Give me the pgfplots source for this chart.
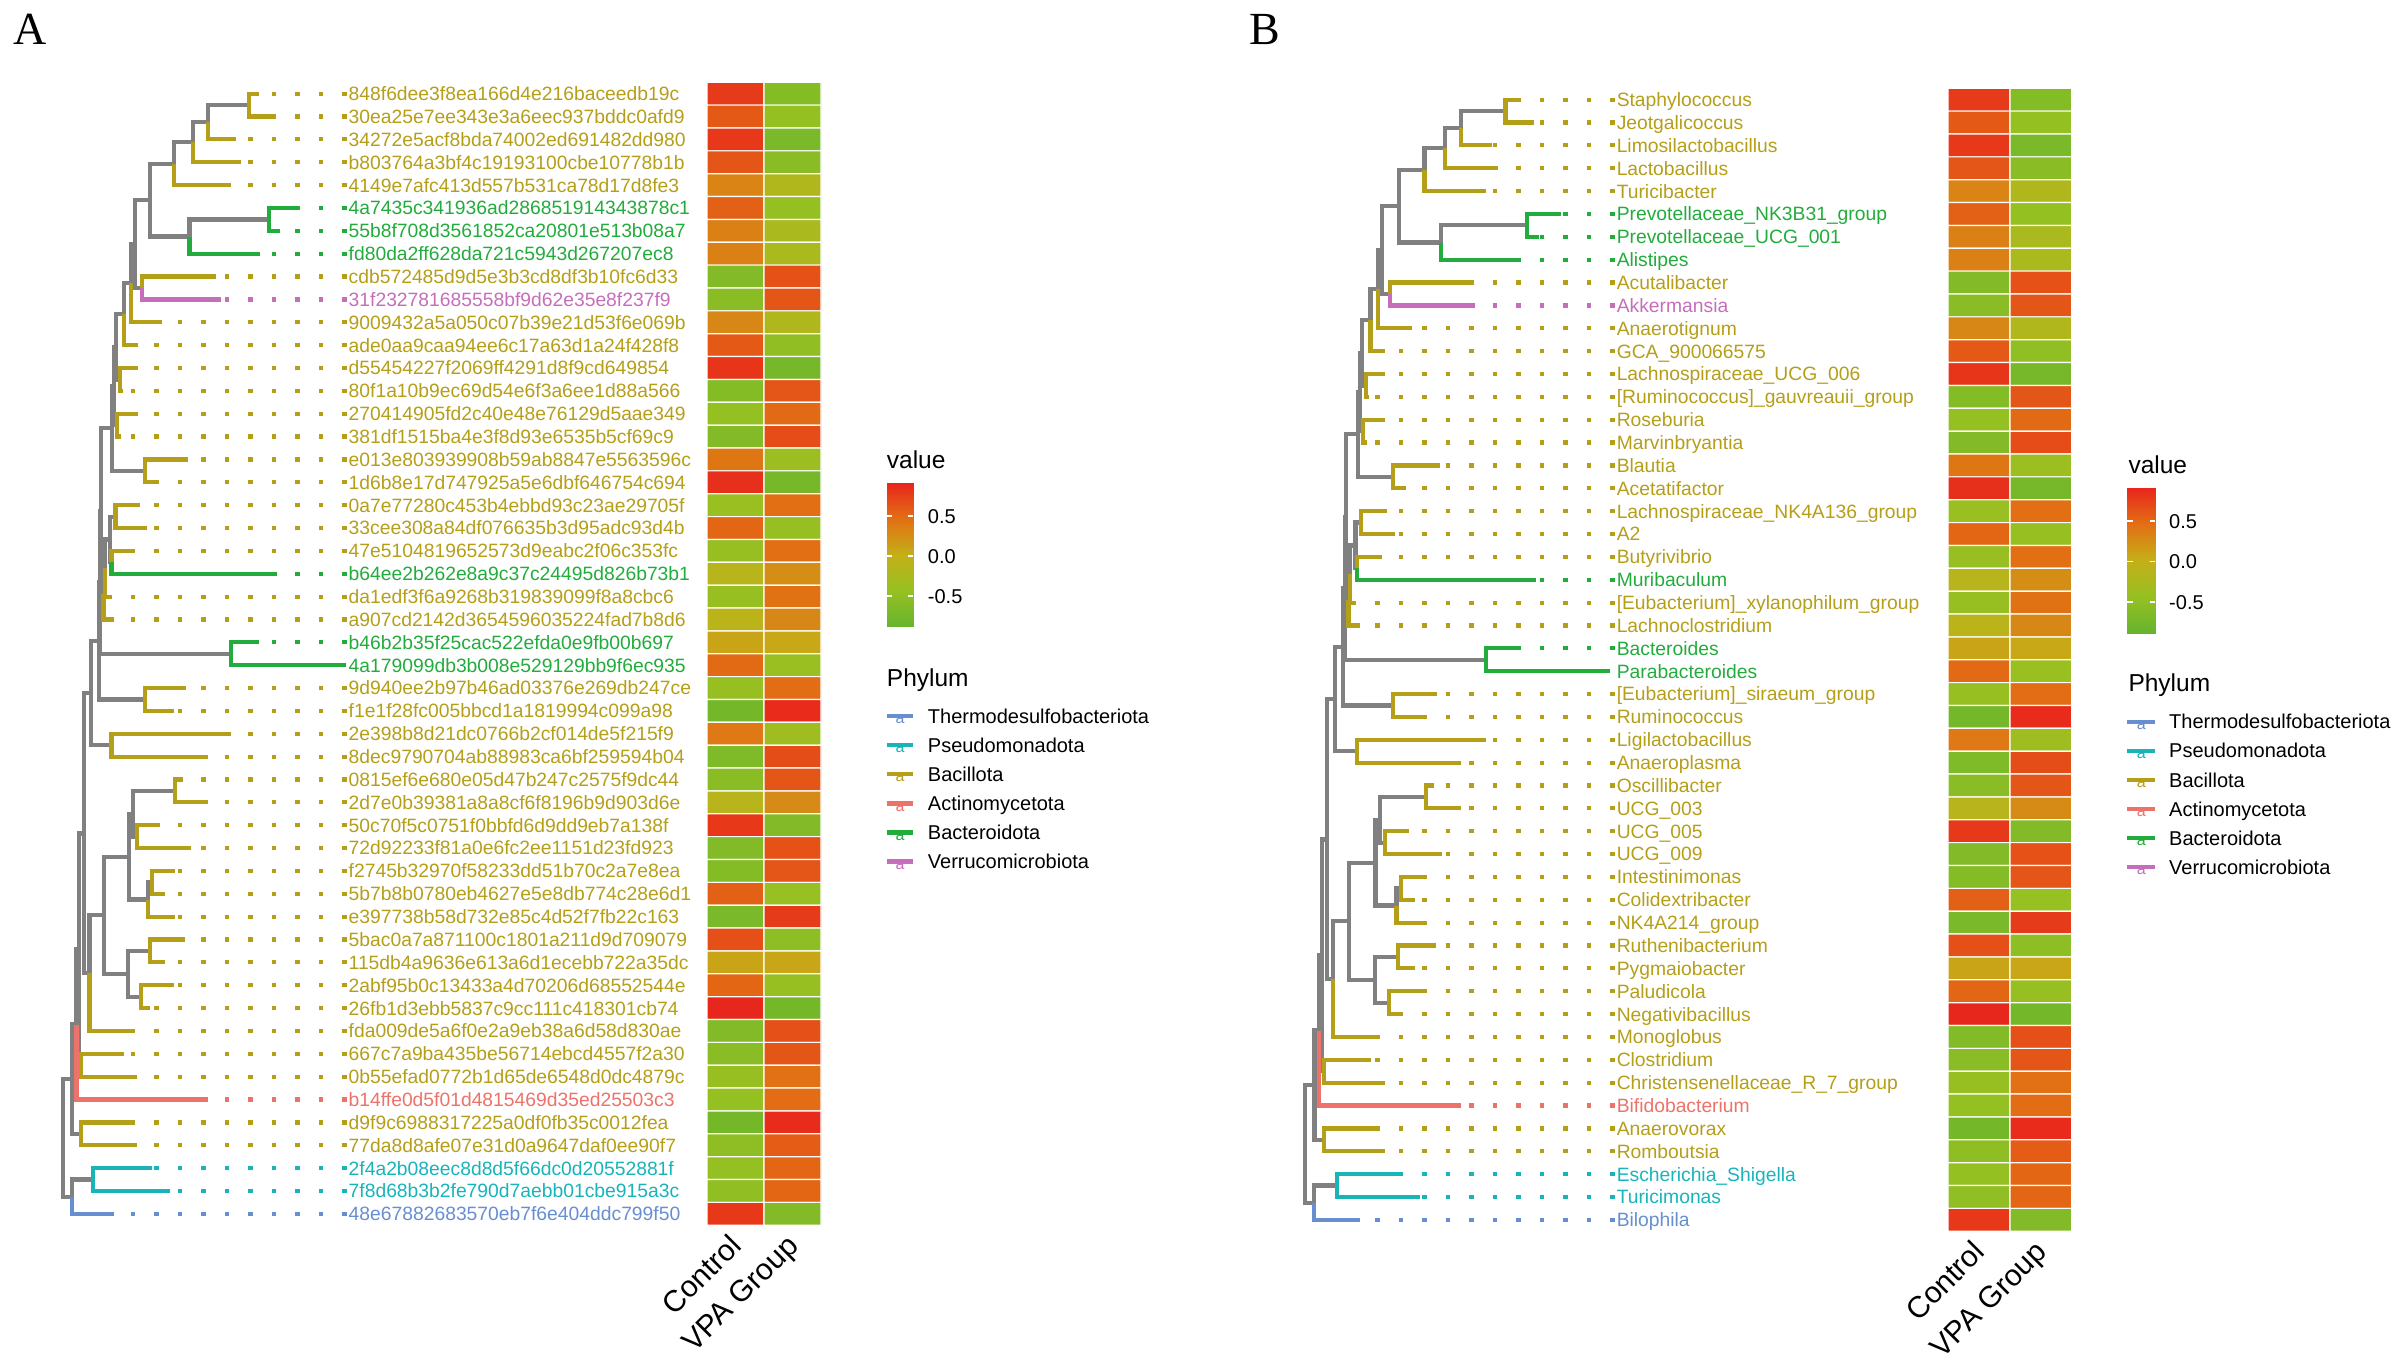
\documentclass[border=0pt]{standalone}
\usepackage{fontspec}
\setmainfont{Liberation Sans}
\newfontfamily\serifff{Liberation Serif}
\usepackage{pgfplots}
\usepackage{pgfplotstable}
\pgfplotsset{compat=1.18}

\definecolor{cOli}{RGB}{181,158,24}
\definecolor{cGrn}{RGB}{34,172,60}
\definecolor{cCya}{RGB}{24,180,186}
\definecolor{cBlu}{RGB}{104,142,210}
\definecolor{cSal}{RGB}{236,114,106}
\definecolor{cPur}{RGB}{198,110,186}
\definecolor{cGry}{RGB}{128,128,128}

\pgfplotsset{
  colormap={hm}{rgb255=(102,180,46) rgb255=(150,192,34) rgb255=(196,176,24) rgb255=(226,112,20) rgb255=(232,38,28)},
  full/.style={scale only axis, width=2404pt, height=1369pt, at={(0pt,0pt)}, anchor=south west,
    hide axis, clip=false, y dir=reverse, unbounded coords=jump},
  br/.style={line width=4.2pt, no markers},
  dt/.style={line width=4.2pt, dash pattern=on 4.4pt off 19.1pt, no markers},
  heat/.style={scale only axis, anchor=north west, height=1143pt, xmin=-0.5, xmax=1.5,
    ymin=0.5, ymax=50.5, y dir=reverse, hide axis, colormap name=hm,
    point meta min=-0.883, point meta max=0.908},
}
\tikzset{
  lab/.style={anchor=west, font=\fontsize{19.3}{22}\selectfont, text height=13.8pt, text depth=0pt, inner xsep=2pt, inner ysep=0pt},
  lgt/.style={anchor=west, font=\fontsize{20}{24}\selectfont, text height=14.3pt, text depth=0pt, inner sep=0pt},
  lga/.style={font=\fontsize{16}{16}\selectfont, inner sep=0pt},
  ttl/.style={anchor=base west, font=\fontsize{24.5}{28}\selectfont, inner sep=0pt},
  cnm/.style={anchor=east, rotate=45, font=\fontsize{30}{34}\selectfont, text height=21.5pt, text depth=0pt, inner sep=0pt},
}

% row, Control, VPA Group
\pgfplotstableread{
x y c
0 1 0.78
1 1 -0.60
0 2 0.60
1 2 -0.45
0 3 0.80
1 3 -0.70
0 4 0.62
1 4 -0.55
0 5 0.32
1 5 -0.18
0 6 0.55
1 6 -0.45
0 7 0.35
1 7 -0.25
0 8 0.35
1 8 -0.25
0 9 -0.62
1 9 0.65
0 10 -0.55
1 10 0.62
0 11 0.30
1 11 -0.18
0 12 0.60
1 12 -0.48
0 13 0.82
1 13 -0.72
0 14 -0.60
1 14 0.62
0 15 -0.45
1 15 0.50
0 16 -0.62
1 16 0.68
0 17 0.42
1 17 -0.38
0 18 0.85
1 18 -0.72
0 19 -0.40
1 19 0.47
0 20 0.52
1 20 -0.42
0 21 -0.42
1 21 0.47
0 22 -0.10
1 22 0.25
0 23 -0.42
1 23 0.45
0 24 -0.08
1 24 0.30
0 25 0.10
1 25 0.07
0 26 0.50
1 26 -0.40
0 27 -0.42
1 27 0.48
0 28 -0.75
1 28 0.88
0 29 0.40
1 29 -0.35
0 30 -0.65
1 30 0.67
0 31 -0.55
1 31 0.62
0 32 -0.10
1 32 0.27
0 33 0.80
1 33 -0.62
0 34 -0.62
1 34 0.65
0 35 -0.60
1 35 0.62
0 36 0.55
1 36 -0.43
0 37 -0.70
1 37 0.78
0 38 0.66
1 38 -0.52
0 39 0.10
1 39 0.08
0 40 0.52
1 40 -0.42
0 41 0.90
1 41 -0.75
0 42 -0.62
1 42 0.66
0 43 -0.55
1 43 0.62
0 44 -0.42
1 44 0.46
0 45 -0.45
1 45 0.48
0 46 -0.75
1 46 0.88
0 47 -0.50
1 47 0.58
0 48 -0.45
1 48 0.52
0 49 -0.48
1 49 0.52
0 50 0.80
1 50 -0.62
}\heatA

\pgfplotstableread{
x y c
0 1 0.78
1 1 -0.60
0 2 0.60
1 2 -0.45
0 3 0.80
1 3 -0.70
0 4 0.62
1 4 -0.55
0 5 0.32
1 5 -0.18
0 6 0.55
1 6 -0.45
0 7 0.35
1 7 -0.25
0 8 0.35
1 8 -0.25
0 9 -0.62
1 9 0.65
0 10 -0.55
1 10 0.62
0 11 0.30
1 11 -0.18
0 12 0.60
1 12 -0.48
0 13 0.82
1 13 -0.72
0 14 -0.60
1 14 0.62
0 15 -0.45
1 15 0.50
0 16 -0.62
1 16 0.68
0 17 0.42
1 17 -0.38
0 18 0.85
1 18 -0.72
0 19 -0.40
1 19 0.47
0 20 0.52
1 20 -0.42
0 21 -0.42
1 21 0.47
0 22 -0.10
1 22 0.25
0 23 -0.42
1 23 0.45
0 24 -0.08
1 24 0.30
0 25 0.10
1 25 0.07
0 26 0.50
1 26 -0.40
0 27 -0.42
1 27 0.48
0 28 -0.75
1 28 0.88
0 29 0.40
1 29 -0.35
0 30 -0.65
1 30 0.67
0 31 -0.55
1 31 0.62
0 32 -0.10
1 32 0.27
0 33 0.80
1 33 -0.62
0 34 -0.62
1 34 0.65
0 35 -0.60
1 35 0.62
0 36 0.55
1 36 -0.43
0 37 -0.70
1 37 0.78
0 38 0.66
1 38 -0.52
0 39 0.10
1 39 0.08
0 40 0.52
1 40 -0.42
0 41 0.90
1 41 -0.75
0 42 -0.62
1 42 0.66
0 43 -0.55
1 43 0.62
0 44 -0.42
1 44 0.46
0 45 -0.45
1 45 0.48
0 46 -0.75
1 46 0.88
0 47 -0.50
1 47 0.58
0 48 -0.45
1 48 0.52
0 49 -0.48
1 49 0.52
0 50 0.80
1 50 -0.62
}\heatB

% tree: x = branch position (px of panel A), y = row
\newcommand{\drawtree}[1]{%
\addplot[cGry, br] coordinates {
(208,2.25)(208,1.5)(249,1.5)(nan,nan)
(193,3.125)(193,2.25)(208,2.25)(nan,nan)
(174,4.0625)(174,3.125)(193,3.125)(nan,nan)
(150,5.656)(150,4.0625)(174,4.0625)(nan,nan)
(189.5,7.25)(189.5,6.5)(269,6.5)(nan,nan)
(150,5.656)(150,7.25)(189.5,7.25)(nan,nan)
(134.7,7.578)(134.7,5.656)(150,5.656)(nan,nan)
(134.7,7.578)(134.7,9.5)(142,9.5)(nan,nan)
(131,9.289)(131,7.578)(134.7,7.578)(nan,nan)
(124,10.645)(124,9.289)(131,9.289)(nan,nan)
(116,12.07)(116,10.645)(124,10.645)(nan,nan)
(116,12.07)(116,13.5)(120,13.5)(nan,nan)
(114,13.79)(114,12.07)(116,12.07)(nan,nan)
(114,13.79)(114,15.5)(117,15.5)(nan,nan)
(112,15.64)(112,13.79)(114,13.79)(nan,nan)
(112,15.64)(112,17.5)(144.6,17.5)(nan,nan)
(110,20.5)(110,19.5)(115.5,19.5)(nan,nan)
(110,20.5)(110,21.5)(111.4,21.5)(nan,nan)
(105,21.75)(105,20.5)(110,20.5)(nan,nan)
(103.5,22.875)(103.5,21.75)(105,21.75)(nan,nan)
(101,19.26)(101,15.64)(112,15.64)(nan,nan)
(101,19.26)(101,22.875)(103.5,22.875)(nan,nan)
(100,22.38)(100,19.26)(101,19.26)(nan,nan)
(100,22.38)(100,25.5)(231,25.5)(nan,nan)
(98.7,24.94)(98.7,22.38)(100,22.38)(nan,nan)
(98.7,24.94)(98.7,27.5)(144.6,27.5)(nan,nan)
(91,27.22)(91,24.94)(98.7,24.94)(nan,nan)
(91,27.22)(91,29.5)(111.4,29.5)(nan,nan)
(133,32.5)(133,31.5)(175,31.5)(nan,nan)
(133,32.5)(133,33.5)(137,33.5)(nan,nan)
(148,36.25)(148,35.5)(152,35.5)(nan,nan)
(128.6,34.375)(128.6,32.5)(133,32.5)(nan,nan)
(128.6,34.375)(128.6,36.25)(148,36.25)(nan,nan)
(127.8,39.5)(127.8,38.5)(149.7,38.5)(nan,nan)
(127.8,39.5)(127.8,40.5)(141,40.5)(nan,nan)
(104,36.94)(104,34.375)(128.6,34.375)(nan,nan)
(104,36.94)(104,39.5)(127.8,39.5)(nan,nan)
(89.5,39.47)(89.5,36.94)(104,36.94)(nan,nan)
(84,33.36)(84,27.22)(91,27.22)(nan,nan)
(84,33.36)(84,39.47)(89.5,39.47)(nan,nan)
(79,38.43)(79,33.36)(84,33.36)(nan,nan)
(79,38.43)(79,43.5)(81,43.5)(nan,nan)
(76.5,41.72)(76.5,38.43)(79,38.43)(nan,nan)
(72,44.11)(72,41.72)(76.5,41.72)(nan,nan)
(72,44.11)(72,46.5)(81,46.5)(nan,nan)
(63,46.68)(63,44.11)(72,44.11)(nan,nan)
(71.6,49.25)(71.6,48.5)(92.6,48.5)(nan,nan)
(63,46.68)(63,49.25)(71.6,49.25)
};
\addplot[cOli, br] coordinates {
(249,1.5)(249,1)(259,1)(nan,nan)
(249,1.5)(249,2)(275,2)(nan,nan)
(208,2.25)(208,3)(236,3)(nan,nan)
(193,3.125)(193,4)(241,4)(nan,nan)
(174,4.0625)(174,5)(231,5)(nan,nan)
(142,9.5)(142,9)(216,9)(nan,nan)
(131,9.289)(131,11)(162,11)(nan,nan)
(124,10.645)(124,12)(137.5,12)(nan,nan)
(120,13.5)(120,13)(137.5,13)(nan,nan)
(120,13.5)(120,14)(123,14)(nan,nan)
(117,15.5)(117,15)(137.5,15)(nan,nan)
(117,15.5)(117,16)(121,16)(nan,nan)
(144.6,17.5)(144.6,17)(188,17)(nan,nan)
(144.6,17.5)(144.6,18)(157,18)(nan,nan)
(115.5,19.5)(115.5,19)(139.5,19)(nan,nan)
(115.5,19.5)(115.5,20)(147,20)(nan,nan)
(111.4,21.5)(111.4,21)(134.4,21)(nan,nan)
(105,21.75)(105,23)(109,23)(nan,nan)
(103.5,22.875)(103.5,24)(114,24)(nan,nan)
(144.6,27.5)(144.6,27)(185.6,27)(nan,nan)
(144.6,27.5)(144.6,28)(173.7,28)(nan,nan)
(111.4,29.5)(111.4,29)(231,29)(nan,nan)
(111.4,29.5)(111.4,30)(208,30)(nan,nan)
(175,31.5)(175,31)(183,31)(nan,nan)
(175,31.5)(175,32)(208,32)(nan,nan)
(137,33.5)(137,33)(160,33)(nan,nan)
(137,33.5)(137,34)(190.5,34)(nan,nan)
(152,35.5)(152,35)(175,35)(nan,nan)
(152,35.5)(152,36)(165,36)(nan,nan)
(148,36.25)(148,37)(175,37)(nan,nan)
(149.7,38.5)(149.7,38)(185,38)(nan,nan)
(149.7,38.5)(149.7,39)(165,39)(nan,nan)
(141,40.5)(141,40)(173.7,40)(nan,nan)
(141,40.5)(141,41)(150,41)(nan,nan)
(89.5,39.47)(89.5,42)(132,42)(nan,nan)
(81,43.5)(81,43)(124,43)(nan,nan)
(81,43.5)(81,44)(137,44)(nan,nan)
(81,46.5)(81,46)(132,46)(nan,nan)
(81,46.5)(81,47)(137,47)
};
\addplot[cGrn, br] coordinates {
(269,6.5)(269,6)(300,6)(nan,nan)
(269,6.5)(269,7)(280,7)(nan,nan)
(189.5,7.25)(189.5,8)(260,8)(nan,nan)
(111.4,21.5)(111.4,22)(277,22)(nan,nan)
(231,25.5)(231,25)(259.4,25)(nan,nan)
(231,25.5)(231,26)(346,26)
};
\addplot[cPur, br] coordinates {(142,9.5)(142,10)(221,10)};
\addplot[cSal, br] coordinates {(76.5,41.72)(76.5,45)(208,45)};
\addplot[cCya, br] coordinates {
(92.6,48.5)(92.6,48)(152,48)(nan,nan)
(92.6,48.5)(92.6,49)(170,49)
};
\addplot[cBlu, br] coordinates {(71.6,49.25)(71.6,50)(114,50)};
% aligned dotted lines, drawn from the label side
\addplot[cOli, dt] coordinates {
(#1,1)(259,1)(nan,nan)(#1,2)(275,2)(nan,nan)(#1,3)(236,3)(nan,nan)(#1,4)(241,4)(nan,nan)
(#1,5)(231,5)(nan,nan)(#1,9)(216,9)(nan,nan)(#1,11)(162,11)(nan,nan)(#1,12)(137.5,12)(nan,nan)
(#1,13)(137.5,13)(nan,nan)(#1,14)(123,14)(nan,nan)(#1,15)(137.5,15)(nan,nan)(#1,16)(121,16)(nan,nan)
(#1,17)(188,17)(nan,nan)(#1,18)(157,18)(nan,nan)(#1,19)(139.5,19)(nan,nan)(#1,20)(147,20)(nan,nan)
(#1,21)(134.4,21)(nan,nan)(#1,23)(109,23)(nan,nan)(#1,24)(114,24)(nan,nan)(#1,27)(185.6,27)(nan,nan)
(#1,28)(173.7,28)(nan,nan)(#1,29)(231,29)(nan,nan)(#1,30)(208,30)(nan,nan)(#1,31)(183,31)(nan,nan)
(#1,32)(208,32)(nan,nan)(#1,33)(160,33)(nan,nan)(#1,34)(190.5,34)(nan,nan)(#1,35)(175,35)(nan,nan)
(#1,36)(165,36)(nan,nan)(#1,37)(175,37)(nan,nan)(#1,38)(185,38)(nan,nan)(#1,39)(165,39)(nan,nan)
(#1,40)(173.7,40)(nan,nan)(#1,41)(150,41)(nan,nan)(#1,42)(132,42)(nan,nan)(#1,43)(124,43)(nan,nan)
(#1,44)(137,44)(nan,nan)(#1,46)(132,46)(nan,nan)(#1,47)(137,47)
};
\addplot[cGrn, dt] coordinates {
(#1,6)(300,6)(nan,nan)(#1,7)(280,7)(nan,nan)(#1,8)(260,8)(nan,nan)(#1,22)(277,22)(nan,nan)(#1,25)(259.4,25)
};
\addplot[cPur, dt] coordinates {(#1,10)(221,10)};
\addplot[cSal, dt] coordinates {(#1,45)(208,45)};
\addplot[cCya, dt] coordinates {(#1,48)(152,48)(nan,nan)(#1,49)(170,49)};
\addplot[cBlu, dt] coordinates {(#1,50)(114,50)};
}
\newcommand{\lab}[3]{\node[lab, text=#2] at (axis cs:\LX,#1) {#3};}

\begin{document}
\begin{tikzpicture}

% ---------- heatmaps ----------
\begin{axis}[heat, width=114pt, at={(707pt,1286.73pt)}]
\addplot[matrix plot, mesh/cols=2, point meta=explicit, shader=faceted, faceted color=white, line width=1.2pt]
  table[x=x, y=y, meta=c] {\heatA};
\end{axis}
\begin{axis}[heat, width=123.8pt, at={(1948pt,1280.73pt)}]
\addplot[matrix plot, mesh/cols=2, point meta=explicit, shader=faceted, faceted color=white, line width=1.2pt]
  table[x=x, y=y, meta=c] {\heatB};
\end{axis}

% ---------- tree A ----------
\def\LX{346.5}
\begin{axis}[full, xmin=0, xmax=2404, ymin=-3.0989, ymax=56.787]
\drawtree{346.5}
\lab{1}{cOli}{848f6dee3f8ea166d4e216baceedb19c}
\lab{2}{cOli}{30ea25e7ee343e3a6eec937bddc0afd9}
\lab{3}{cOli}{34272e5acf8bda74002ed691482dd980}
\lab{4}{cOli}{b803764a3bf4c19193100cbe10778b1b}
\lab{5}{cOli}{4149e7afc413d557b531ca78d17d8fe3}
\lab{6}{cGrn}{4a7435c341936ad286851914343878c1}
\lab{7}{cGrn}{55b8f708d3561852ca20801e513b08a7}
\lab{8}{cGrn}{fd80da2ff628da721c5943d267207ec8}
\lab{9}{cOli}{cdb572485d9d5e3b3cd8df3b10fc6d33}
\lab{10}{cPur}{31f232781685558bf9d62e35e8f237f9}
\lab{11}{cOli}{9009432a5a050c07b39e21d53f6e069b}
\lab{12}{cOli}{ade0aa9caa94ee6c17a63d1a24f428f8}
\lab{13}{cOli}{d55454227f2069ff4291d8f9cd649854}
\lab{14}{cOli}{80f1a10b9ec69d54e6f3a6ee1d88a566}
\lab{15}{cOli}{270414905fd2c40e48e76129d5aae349}
\lab{16}{cOli}{381df1515ba4e3f8d93e6535b5cf69c9}
\lab{17}{cOli}{e013e803939908b59ab8847e5563596c}
\lab{18}{cOli}{1d6b8e17d747925a5e6dbf646754c694}
\lab{19}{cOli}{0a7e77280c453b4ebbd93c23ae29705f}
\lab{20}{cOli}{33cee308a84df076635b3d95adc93d4b}
\lab{21}{cOli}{47e5104819652573d9eabc2f06c353fc}
\lab{22}{cGrn}{b64ee2b262e8a9c37c24495d826b73b1}
\lab{23}{cOli}{da1edf3f6a9268b319839099f8a8cbc6}
\lab{24}{cOli}{a907cd2142d3654596035224fad7b8d6}
\lab{25}{cGrn}{b46b2b35f25cac522efda0e9fb00b697}
\lab{26}{cGrn}{4a179099db3b008e529129bb9f6ec935}
\lab{27}{cOli}{9d940ee2b97b46ad03376e269db247ce}
\lab{28}{cOli}{f1e1f28fc005bbcd1a1819994c099a98}
\lab{29}{cOli}{2e398b8d21dc0766b2cf014de5f215f9}
\lab{30}{cOli}{8dec9790704ab88983ca6bf259594b04}
\lab{31}{cOli}{0815ef6e680e05d47b247c2575f9dc44}
\lab{32}{cOli}{2d7e0b39381a8a8cf6f8196b9d903d6e}
\lab{33}{cOli}{50c70f5c0751f0bbfd6d9dd9eb7a138f}
\lab{34}{cOli}{72d92233f81a0e6fc2ee1151d23fd923}
\lab{35}{cOli}{f2745b32970f58233dd51b70c2a7e8ea}
\lab{36}{cOli}{5b7b8b0780eb4627e5e8db774c28e6d1}
\lab{37}{cOli}{e397738b58d732e85c4d52f7fb22c163}
\lab{38}{cOli}{5bac0a7a871100c1801a211d9d709079}
\lab{39}{cOli}{115db4a9636e613a6d1ecebb722a35dc}
\lab{40}{cOli}{2abf95b0c13433a4d70206d68552544e}
\lab{41}{cOli}{26fb1d3ebb5837c9cc111c418301cb74}
\lab{42}{cOli}{fda009de5a6f0e2a9eb38a6d58d830ae}
\lab{43}{cOli}{667c7a9ba435be56714ebcd4557f2a30}
\lab{44}{cOli}{0b55efad0772b1d65de6548d0dc4879c}
\lab{45}{cSal}{b14ffe0d5f01d4815469d35ed25503c3}
\lab{46}{cOli}{d9f9c6988317225a0df0fb35c0012fea}
\lab{47}{cOli}{77da8d8afe07e31d0a9647daf0ee90f7}
\lab{48}{cCya}{2f4a2b08eec8d8d5f66dc0d20552881f}
\lab{49}{cCya}{7f8d68b3b2fe790d7aebb01cbe915a3c}
\lab{50}{cBlu}{48e67882683570eb7f6e404ddc799f50}
\end{axis}

% ---------- tree B (same topology, 8% wider) ----------
\def\LX{349.9}
\begin{axis}[full, xmin=-1145.0, xmax=1080.9, ymin=-3.3613, ymax=56.525]
\drawtree{349.9}
\lab{1}{cOli}{Staphylococcus}
\lab{2}{cOli}{Jeotgalicoccus}
\lab{3}{cOli}{Limosilactobacillus}
\lab{4}{cOli}{Lactobacillus}
\lab{5}{cOli}{Turicibacter}
\lab{6}{cGrn}{Prevotellaceae\_NK3B31\_group}
\lab{7}{cGrn}{Prevotellaceae\_UCG\_001}
\lab{8}{cGrn}{Alistipes}
\lab{9}{cOli}{Acutalibacter}
\lab{10}{cPur}{Akkermansia}
\lab{11}{cOli}{Anaerotignum}
\lab{12}{cOli}{GCA\_900066575}
\lab{13}{cOli}{Lachnospiraceae\_UCG\_006}
\lab{14}{cOli}{[Ruminococcus]\_gauvreauii\_group}
\lab{15}{cOli}{Roseburia}
\lab{16}{cOli}{Marvinbryantia}
\lab{17}{cOli}{Blautia}
\lab{18}{cOli}{Acetatifactor}
\lab{19}{cOli}{Lachnospiraceae\_NK4A136\_group}
\lab{20}{cOli}{A2}
\lab{21}{cOli}{Butyrivibrio}
\lab{22}{cGrn}{Muribaculum}
\lab{23}{cOli}{[Eubacterium]\_xylanophilum\_group}
\lab{24}{cOli}{Lachnoclostridium}
\lab{25}{cGrn}{Bacteroides}
\lab{26}{cGrn}{Parabacteroides}
\lab{27}{cOli}{[Eubacterium]\_siraeum\_group}
\lab{28}{cOli}{Ruminococcus}
\lab{29}{cOli}{Ligilactobacillus}
\lab{30}{cOli}{Anaeroplasma}
\lab{31}{cOli}{Oscillibacter}
\lab{32}{cOli}{UCG\_003}
\lab{33}{cOli}{UCG\_005}
\lab{34}{cOli}{UCG\_009}
\lab{35}{cOli}{Intestinimonas}
\lab{36}{cOli}{Colidextribacter}
\lab{37}{cOli}{NK4A214\_group}
\lab{38}{cOli}{Ruthenibacterium}
\lab{39}{cOli}{Pygmaiobacter}
\lab{40}{cOli}{Paludicola}
\lab{41}{cOli}{Negativibacillus}
\lab{42}{cOli}{Monoglobus}
\lab{43}{cOli}{Clostridium}
\lab{44}{cOli}{Christensenellaceae\_R\_7\_group}
\lab{45}{cSal}{Bifidobacterium}
\lab{46}{cOli}{Anaerovorax}
\lab{47}{cOli}{Romboutsia}
\lab{48}{cCya}{Escherichia\_Shigella}
\lab{49}{cCya}{Turicimonas}
\lab{50}{cBlu}{Bilophila}
\end{axis}

% ---------- legends, colour bars, titles (pixel frame) ----------
\begin{axis}[full, xmin=0, xmax=2404, ymin=0, ymax=1369, colormap name=hm,
  point meta min=-0.883, point meta max=0.908]
\addplot[surf, shader=interp, mesh/cols=2, point meta=explicit] table[meta=c] {
x y c
886.7 483.4 0.908
913.3 483.4 0.908
886.7 626.6 -0.883
913.3 626.6 -0.883
};
\addplot[surf, shader=interp, mesh/cols=2, point meta=explicit] table[meta=c] {
x y c
2127.3 488 0.908
2155 488 0.908
2127.3 633 -0.883
2155 633 -0.883
};
\addplot[white, line width=1.5pt, no markers] coordinates {
(886.7,516)(892.2,516)(nan,nan)(907.8,516)(913.3,516)(nan,nan)
(886.7,556)(892.2,556)(nan,nan)(907.8,556)(913.3,556)(nan,nan)
(886.7,596)(892.2,596)(nan,nan)(907.8,596)(913.3,596)(nan,nan)
(2127.3,521)(2132.8,521)(nan,nan)(2149.5,521)(2155,521)(nan,nan)
(2127.3,561.5)(2132.8,561.5)(nan,nan)(2149.5,561.5)(2155,561.5)(nan,nan)
(2127.3,602)(2132.8,602)(nan,nan)(2149.5,602)(2155,602)
};
% legend keys A
\addplot[cBlu, line width=4.4pt, no markers] coordinates {(886.7,716)(913.3,716)};
\addplot[cCya, line width=4.4pt, no markers] coordinates {(886.7,745.1)(913.3,745.1)};
\addplot[cOli, line width=4.4pt, no markers] coordinates {(886.7,774.2)(913.3,774.2)};
\addplot[cSal, line width=4.4pt, no markers] coordinates {(886.7,803.3)(913.3,803.3)};
\addplot[cGrn, line width=4.4pt, no markers] coordinates {(886.7,832.4)(913.3,832.4)};
\addplot[cPur, line width=4.4pt, no markers] coordinates {(886.7,861.5)(913.3,861.5)};
% legend keys B
\addplot[cBlu, line width=4.4pt, no markers] coordinates {(2127.3,721.7)(2155,721.7)};
\addplot[cCya, line width=4.4pt, no markers] coordinates {(2127.3,750.8)(2155,750.8)};
\addplot[cOli, line width=4.4pt, no markers] coordinates {(2127.3,779.9)(2155,779.9)};
\addplot[cSal, line width=4.4pt, no markers] coordinates {(2127.3,809)(2155,809)};
\addplot[cGrn, line width=4.4pt, no markers] coordinates {(2127.3,838.1)(2155,838.1)};
\addplot[cPur, line width=4.4pt, no markers] coordinates {(2127.3,867.2)(2155,867.2)};

\node[lga, text=cBlu] at (axis cs:900,719.5) {a};
\node[lga, text=cCya] at (axis cs:900,748.6) {a};
\node[lga, text=cOli] at (axis cs:900,777.7) {a};
\node[lga, text=cSal] at (axis cs:900,806.8) {a};
\node[lga, text=cGrn] at (axis cs:900,835.9) {a};
\node[lga, text=cPur] at (axis cs:900,865) {a};
\node[lga, text=cBlu] at (axis cs:2141.2,725.2) {a};
\node[lga, text=cCya] at (axis cs:2141.2,754.3) {a};
\node[lga, text=cOli] at (axis cs:2141.2,783.4) {a};
\node[lga, text=cSal] at (axis cs:2141.2,812.5) {a};
\node[lga, text=cGrn] at (axis cs:2141.2,841.6) {a};
\node[lga, text=cPur] at (axis cs:2141.2,870.7) {a};

\node[lgt] at (axis cs:927.7,716) {Thermodesulfobacteriota};
\node[lgt] at (axis cs:927.7,745.1) {Pseudomonadota};
\node[lgt] at (axis cs:927.7,774.2) {Bacillota};
\node[lgt] at (axis cs:927.7,803.3) {Actinomycetota};
\node[lgt] at (axis cs:927.7,832.4) {Bacteroidota};
\node[lgt] at (axis cs:927.7,861.5) {Verrucomicrobiota};
\node[lgt] at (axis cs:2169,721.7) {Thermodesulfobacteriota};
\node[lgt] at (axis cs:2169,750.8) {Pseudomonadota};
\node[lgt] at (axis cs:2169,779.9) {Bacillota};
\node[lgt] at (axis cs:2169,809) {Actinomycetota};
\node[lgt] at (axis cs:2169,838.1) {Bacteroidota};
\node[lgt] at (axis cs:2169,867.2) {Verrucomicrobiota};

\node[lgt] at (axis cs:927.7,516) {0.5};
\node[lgt] at (axis cs:927.7,556) {0.0};
\node[lgt] at (axis cs:927.7,596) {-0.5};
\node[lgt] at (axis cs:2169,521) {0.5};
\node[lgt] at (axis cs:2169,561.5) {0.0};
\node[lgt] at (axis cs:2169,602) {-0.5};

\node[ttl] at (axis cs:886.7,468.3) {value};
\node[ttl] at (axis cs:886.7,686) {Phylum};
\node[ttl] at (axis cs:2128.3,473.3) {value};
\node[ttl] at (axis cs:2128.3,691.7) {Phylum};

\node[cnm] at (axis cs:735.5,1240) {Control};
\node[cnm] at (axis cs:792.5,1240) {VPA Group};
\node[cnm] at (axis cs:1979,1246) {Control};
\node[cnm] at (axis cs:2041,1246) {VPA Group};

\node[anchor=base west, inner sep=0pt, font=\serifff\fontsize{46}{50}\selectfont] at (axis cs:13,44) {A};
\node[anchor=base west, inner sep=0pt, font=\serifff\fontsize{46}{50}\selectfont] at (axis cs:1249,44) {B};
\end{axis}

\pgfresetboundingbox
\path[use as bounding box] (0pt,0pt) rectangle (2404pt,1369pt);
\end{tikzpicture}
\end{document}
